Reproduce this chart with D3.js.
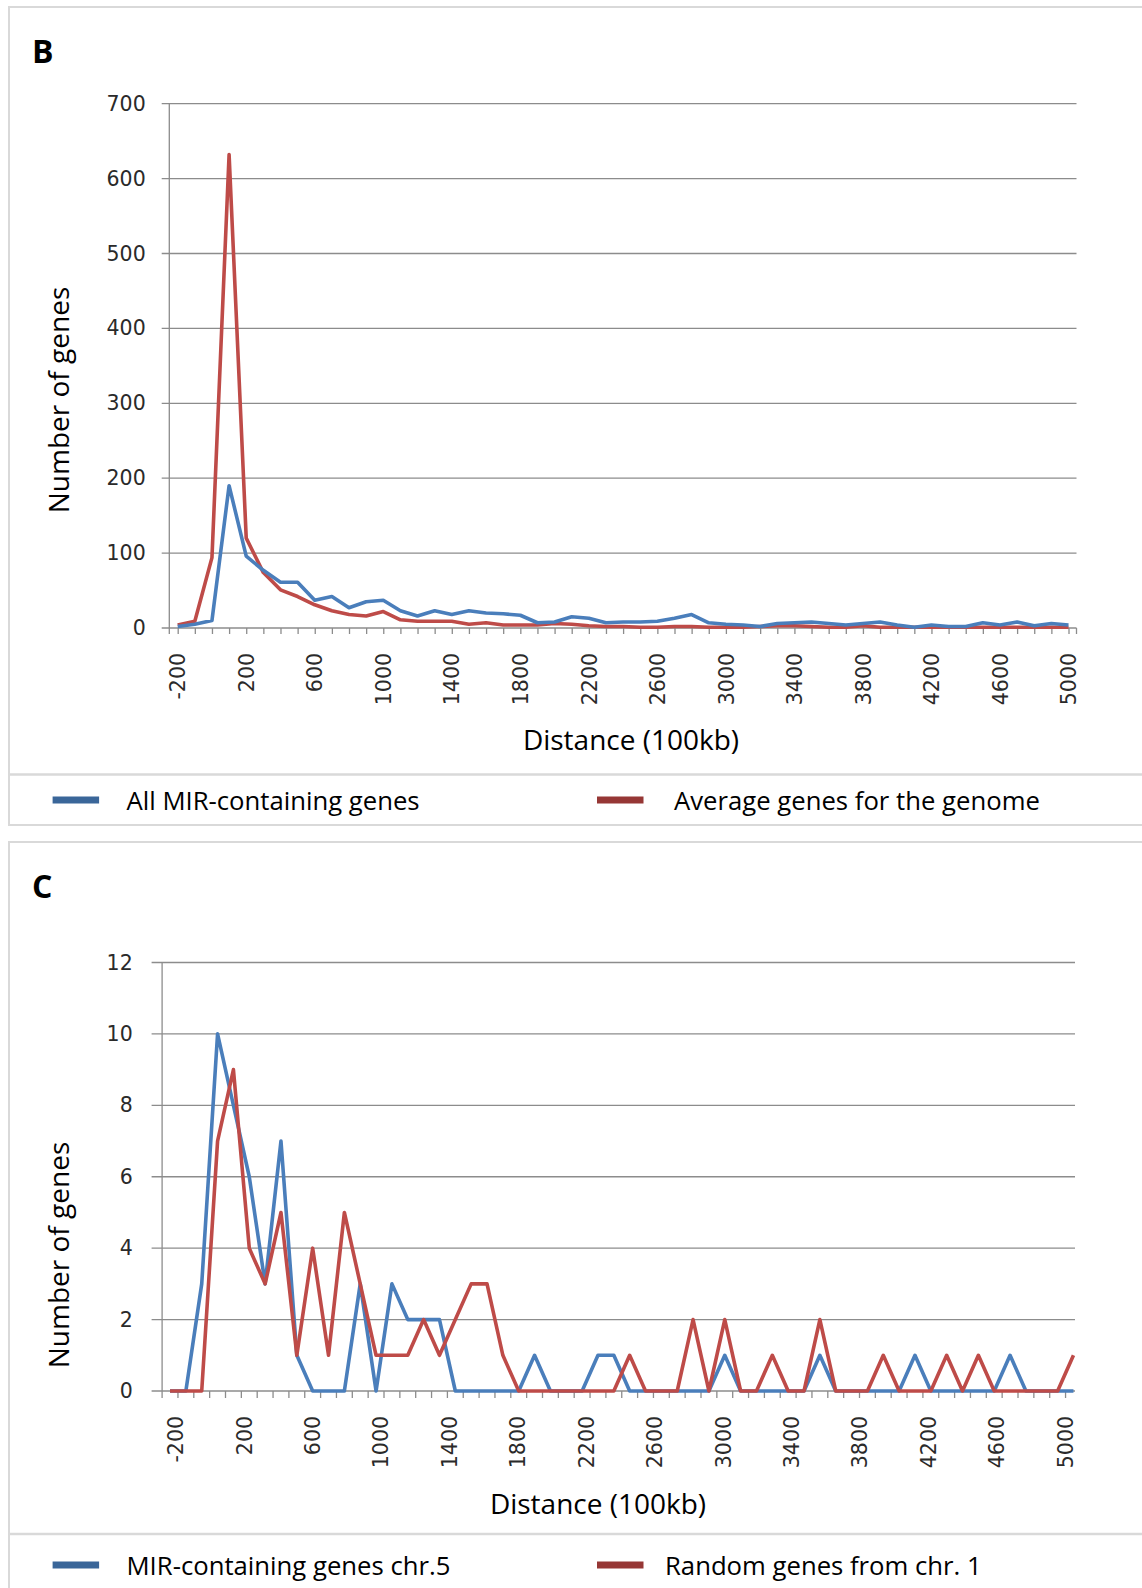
<!DOCTYPE html>
<html>
<head>
<meta charset="utf-8">
<script src="https://cdn.jsdelivr.net/npm/d3@7"></script>
<style>
  body { margin: 0; background: #fff; }
  svg { display: block; font-family: "Open Sans", sans-serif; }
  .tick text { font-family: "DejaVu Sans", sans-serif; font-size: 20.5px; fill: #2a2a2a; }
  .axis-title { font-size: 28px; fill: #000; }
  .legend text { font-size: 25.7px; fill: #000; }
  .panel-letter { font-size: 32px; font-weight: 700; fill: #000; }
</style>
</head>
<body>
<svg width="1142" height="1588"></svg>
<script>
// panel B: distance bins (100kb), every bin is a category
const bDistances = [-200, -100, 0, 100, 200, 300, 400, 500, 600, 700, 800, 900, 1000,
  1100, 1200, 1300, 1400, 1500, 1600, 1700, 1800, 1900, 2000, 2100, 2200, 2300, 2400,
  2500, 2600, 2700, 2800, 2900, 3000, 3100, 3200, 3300, 3400, 3500, 3600, 3700, 3800,
  3900, 4000, 4100, 4200, 4300, 4400, 4500, 4600, 4700, 4800, 4900, 5000];
const bMirGenes = [2, 5, 10, 190, 96, 77, 61, 61, 37, 42, 27, 35, 37, 23, 16, 23, 18,
  23, 20, 19, 17, 7, 8, 15, 13, 7, 8, 8, 9, 13, 18, 7, 5, 4, 2, 6, 7, 8, 6, 4, 6, 8,
  4, 1, 4, 2, 2, 7, 4, 8, 3, 6, 4];
const bGenomeAverage = [4, 9, 94, 632, 120, 74, 51, 42, 31, 23, 18, 16, 22, 11, 9, 9, 9,
  5, 7, 4, 4, 4, 6, 5, 3, 2, 2, 1, 1, 2, 2, 1, 1, 1, 2, 3, 3, 2, 1, 1, 3, 1, 1, 1, 1,
  1, 1, 1, 1, 1, 1, 1, 1];
const bTickLabels = [-200, 200, 600, 1000, 1400, 1800, 2200, 2600, 3000, 3400, 3800,
  4200, 4600, 5000];
const bYTicks = [0, 100, 200, 300, 400, 500, 600, 700];

// panel C: 58 bins, labels drawn on their own distance scale
const cBins = [-200, -100, 0, 100, 200, 300, 400, 500, 600, 700, 800, 900, 1000, 1100,
  1200, 1300, 1400, 1500, 1600, 1700, 1800, 1900, 2000, 2100, 2200, 2300, 2400, 2500,
  2600, 2700, 2800, 2900, 3000, 3100, 3200, 3300, 3400, 3500, 3600, 3700, 3800, 3900,
  4000, 4100, 4200, 4300, 4400, 4500, 4600, 4700, 4800, 4900, 5000, 5100, 5200, 5300,
  5400, 5500];
const cMirChr5 = [0, 0, 3, 10, 8, 6, 3, 7, 1, 0, 0, 0, 3, 0, 3, 2, 2, 2, 0, 0, 0, 0, 0,
  1, 0, 0, 0, 1, 1, 0, 0, 0, 0, 0, 0, 1, 0, 0, 0, 0, 0, 1, 0, 0, 0, 0, 0, 1, 0, 0, 0,
  0, 0, 1, 0, 0, 0, 0];
const cRandomChr1 = [0, 0, 0, 7, 9, 4, 3, 5, 1, 4, 1, 5, 3, 1, 1, 1, 2, 1, 2, 3, 3, 1,
  0, 0, 0, 0, 0, 0, 0, 1, 0, 0, 0, 2, 0, 2, 0, 0, 1, 0, 0, 2, 0, 0, 0, 1, 0, 0, 0, 1,
  0, 1, 0, 0, 0, 0, 0, 1];
const cTickLabels = [-200, 200, 600, 1000, 1400, 1800, 2200, 2600, 3000, 3400, 3800,
  4200, 4600, 5000];
const cYTicks = [0, 2, 4, 6, 8, 10, 12];

const svg = d3.select("svg");
const gridColor = "#8c8c8c";
const frameColor = "#d9d9d9";
const blue = "#4a7ebb";
const red = "#be4b48";
const blueKey = "#3a6699";
const redKey = "#963735";

// boxes around both panels
function panelFrame(top, bottom, legendLine) {
  svg.append("rect")
    .attr("x", 9).attr("y", top)
    .attr("width", 1140).attr("height", bottom - top)
    .attr("fill", "none").attr("stroke", frameColor).attr("stroke-width", 2);
  svg.append("line")
    .attr("x1", 9).attr("x2", 1142)
    .attr("y1", legendLine).attr("y2", legendLine)
    .attr("stroke", frameColor).attr("stroke-width", 2.5);
}
panelFrame(7, 825, 774.5);
panelFrame(842, 1600, 1534);

function grid(g, y, ticks, left, right, tickLen) {
  g.append("g")
    .selectAll("line")
    .data(ticks)
    .join("line")
    .attr("x1", left - tickLen).attr("x2", right)
    .attr("y1", (d) => y(d)).attr("y2", (d) => y(d))
    .attr("stroke", gridColor).attr("stroke-width", 1.3);
  g.append("line")
    .attr("x1", left).attr("x2", left)
    .attr("y1", y.range()[1]).attr("y2", y.range()[0])
    .attr("stroke", gridColor).attr("stroke-width", 1.3);
}

function yAxis(g, y, ticks, left, tickLen, pad) {
  const ax = g.append("g")
    .attr("transform", `translate(${left},0)`)
    .call(d3.axisLeft(y).tickValues(ticks).tickSize(0).tickPadding(tickLen + pad));
  ax.select(".domain").remove();
}

function rotateLabels(ax) {
  ax.select(".domain").remove();
  ax.selectAll(".tick line").attr("stroke", gridColor).attr("stroke-width", 1.3);
  ax.selectAll(".tick text")
    .attr("transform", "rotate(-90)")
    .attr("text-anchor", "end")
    .attr("x", -25).attr("y", 0)
    .attr("dy", "0.35em");
}

function seriesLine(g, points, color) {
  g.append("path")
    .datum(points)
    .attr("fill", "none")
    .attr("stroke", color)
    .attr("stroke-width", 3.6)
    .attr("stroke-linejoin", "round")
    .attr("d", d3.line().x((d) => d[0]).y((d) => d[1]));
}

function legend(y, items) {
  const lg = svg.append("g").attr("class", "legend");
  lg.selectAll("rect")
    .data(items)
    .join("rect")
    .attr("x", (d) => d.x)
    .attr("y", y - 3.5)
    .attr("width", 46.5)
    .attr("height", 7)
    .attr("fill", (d) => d.color);
  lg.selectAll("text")
    .data(items)
    .join("text")
    .attr("x", (d) => d.tx)
    .attr("y", y)
    .attr("dominant-baseline", "central")
    .text((d) => d.text);
}

function titles(yTitle, xTitle) {
  svg.append("text")
    .attr("class", "axis-title")
    .attr("transform", `translate(${yTitle[0]},${yTitle[1]}) rotate(-90)`)
    .attr("text-anchor", "middle")
    .attr("dominant-baseline", "central")
    .text("Number of genes");
  svg.append("text")
    .attr("class", "axis-title")
    .attr("x", xTitle[0]).attr("y", xTitle[1])
    .attr("text-anchor", "middle")
    .attr("dominant-baseline", "central")
    .text("Distance (100kb)");
}

// ---------- panel B ----------
{
  const left = 169.3, right = 1076.5;
  const x = d3.scalePoint().domain(bDistances).range([177.7, 1068.5]);
  const y = d3.scaleLinear().domain([0, 700]).range([628, 103.7]);
  const g = svg.append("g");

  svg.append("text").attr("class", "panel-letter").attr("x", 32).attr("y", 63).text("B");

  grid(g, y, bYTicks, left, right, 7.6);
  yAxis(g, y, bYTicks, left, 7.6, 16);

  const ax = g.append("g")
    .attr("transform", `translate(0,${y(0)})`)
    .call(d3.axisBottom(x).tickValues(bDistances).tickSize(6).tickSizeOuter(0)
      .tickFormat((d) => (bTickLabels.includes(d) ? d : "")));
  rotateLabels(ax);
  g.append("g")
    .selectAll("line")
    .data([left, right])
    .join("line")
    .attr("x1", (d) => d).attr("x2", (d) => d)
    .attr("y1", y(0)).attr("y2", y(0) + 6)
    .attr("stroke", gridColor).attr("stroke-width", 1.3);

  seriesLine(g, bDistances.map((d, i) => [x(d), y(bGenomeAverage[i])]), red);
  seriesLine(g, bDistances.map((d, i) => [x(d), y(bMirGenes[i])]), blue);

  titles([57.7, 400], [631, 739]);
  legend(800, [
    { x: 52.6, tx: 126.5, color: blueKey, text: "All MIR-containing genes" },
    { x: 597, tx: 674, color: redKey, text: "Average genes for the genome" },
  ]);
}

// ---------- panel C ----------
{
  const left = 162.1, right = 1075;
  const x = d3.scaleBand().domain(cBins).range([left, left + 58 * 15.85]);
  const cx = (d) => x(d) + x.bandwidth() / 2;
  const labelX = d3.scaleLinear().domain([-200, 5000]).range([175.5, 1065]);
  const y = d3.scaleLinear().domain([0, 12]).range([1391, 962.5]);
  const g = svg.append("g");

  svg.append("text").attr("class", "panel-letter").attr("x", 32).attr("y", 898).text("C");

  grid(g, y, cYTicks, left, right, 10.5);
  yAxis(g, y, cYTicks, left, 10.5, 18.9);

  // tick marks sit on the bin edges
  g.append("g")
    .selectAll("line")
    .data(cBins)
    .join("line")
    .attr("x1", (d) => x(d)).attr("x2", (d) => x(d))
    .attr("y1", y(0)).attr("y2", y(0) + 7)
    .attr("stroke", gridColor).attr("stroke-width", 1.3);

  const ax = g.append("g")
    .attr("transform", `translate(0,${y(0)})`)
    .call(d3.axisBottom(labelX).tickValues(cTickLabels).tickSize(0).tickFormat((d) => d));
  rotateLabels(ax);
  ax.selectAll(".tick line").remove();

  seriesLine(g, cBins.map((d, i) => [cx(d), y(cMirChr5[i])]), blue);
  seriesLine(g, cBins.map((d, i) => [cx(d), y(cRandomChr1[i])]), red);

  titles([57.7, 1255], [598, 1503]);
  legend(1565, [
    { x: 52.6, tx: 126.5, color: blueKey, text: "MIR-containing genes chr.5" },
    { x: 597, tx: 665, color: redKey, text: "Random genes from chr. 1" },
  ]);
}
</script>
</body>
</html>
